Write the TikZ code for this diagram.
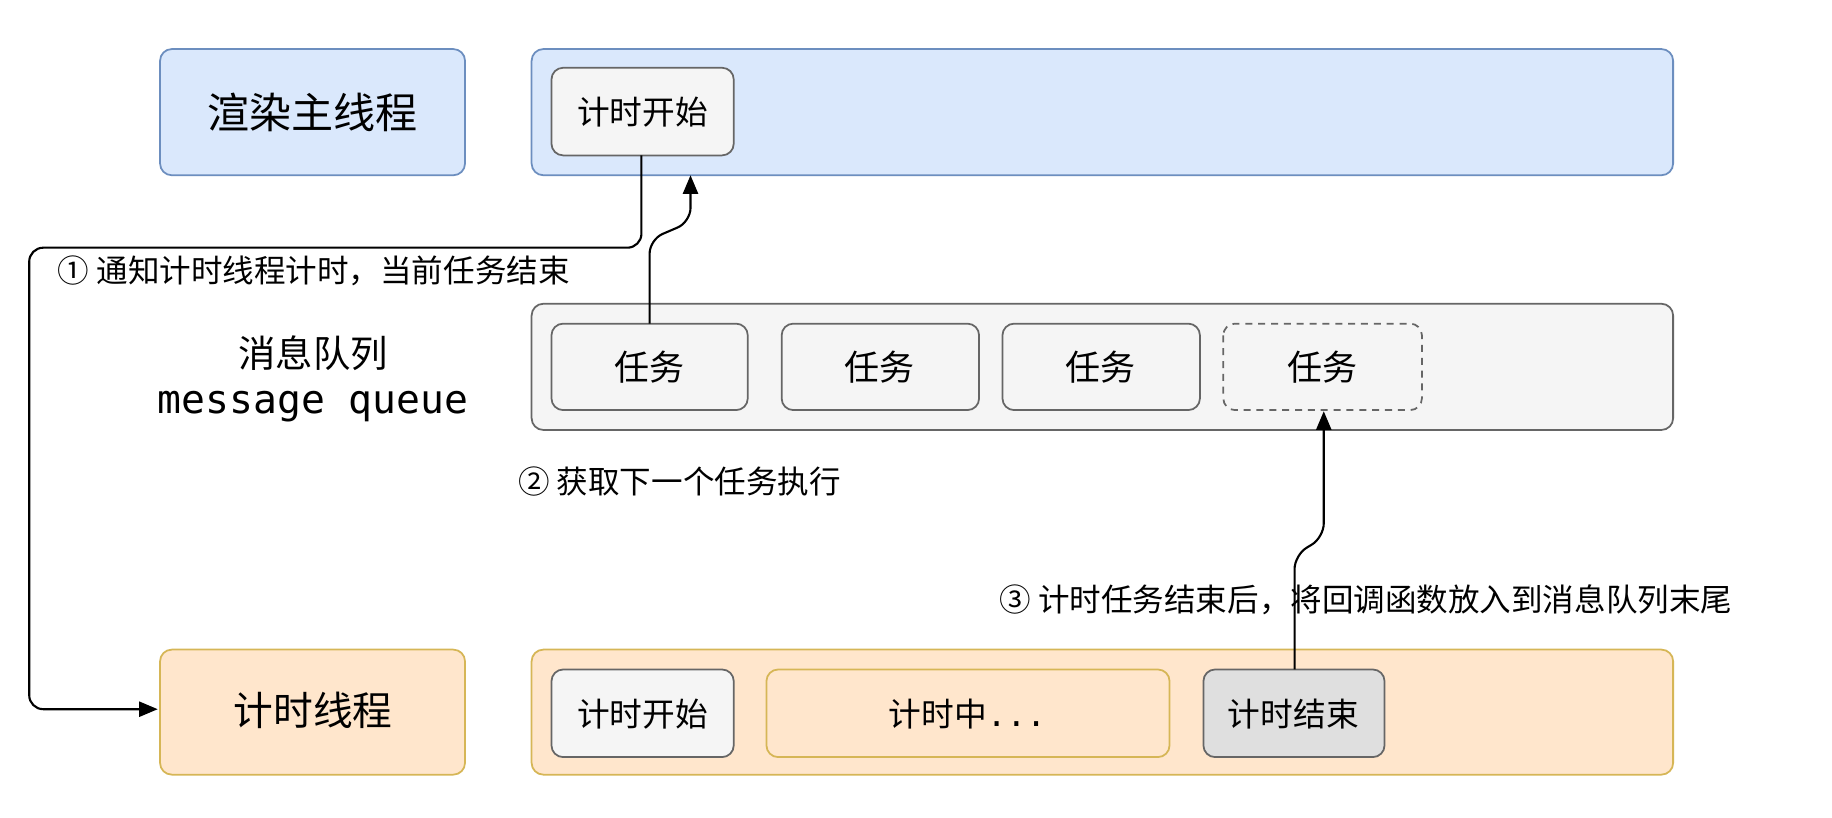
\documentclass[tikz,border=0pt]{standalone}
\usepackage{fontspec}
\setmainfont{Noto Sans CJK SC}
\newfontfamily\monof{DejaVu Sans Mono}
\usetikzlibrary{arrows.meta}
\definecolor{bfill}{HTML}{DAE8FC}\definecolor{bdraw}{HTML}{6C8EBF}
\definecolor{ofill}{HTML}{FFE6CC}\definecolor{odraw}{HTML}{D6B656}
\definecolor{gfill}{HTML}{F5F5F5}\definecolor{gdraw}{HTML}{666666}
\begin{document}
\begin{tikzpicture}[x=1pt,y=-1pt,
  box/.style={rounded corners=10pt,line width=1.5pt},
  blue/.style={box,fill=bfill,draw=bdraw},
  org/.style={box,fill=ofill,draw=odraw},
  gry/.style={box,fill=gfill,draw=gdraw},
  arr/.style={line width=1.8pt,-{Triangle[length=16pt,width=13pt]},rounded corners=12pt},
  lab/.style={font=\fontsize{27}{30}\selectfont,anchor=west}]
\useasboundingbox (0,0) rectangle (1568,700);
\fill[white] (0,0) rectangle (1568,700);
\draw[blue] (137,42) rectangle (398,150) node[midway,font=\fontsize{36}{40}\selectfont] (rt) {渲染主线程};
\draw[blue] (455,42) rectangle (1432,150);
\draw[gry] (472,58) rectangle (628,133); \node[font=\fontsize{28}{30}\selectfont] (ts1) at (550,96) {计时开始};
\draw[gry] (455,260) rectangle (1432,368);
\node[font=\fontsize{32}{34}\selectfont] (mq) at (268,302) {消息队列};
\node[font=\monof\fontsize{34}{36}\selectfont] (mq2) at (268,348) {message queue};
\draw[gry] (472,277) rectangle (640,351); \node[font=\fontsize{30}{32}\selectfont] (t1) at (556,314) {任务};
\draw[gry] (669,277) rectangle (838,351); \node[font=\fontsize{30}{32}\selectfont] (t2) at (753,314) {任务};
\draw[gry] (858,277) rectangle (1027,351); \node[font=\fontsize{30}{32}\selectfont] (t3) at (942,314) {任务};
\draw[gry,dashed,dash pattern=on 6pt off 5pt] (1047,277) rectangle (1217,351); \node[font=\fontsize{30}{32}\selectfont] (t4) at (1132,314) {任务};
\draw[org] (137,556) rectangle (398,663); \node[font=\fontsize{34}{36}\selectfont] (tt) at (268,608) {计时线程};
\draw[org] (455,556) rectangle (1432,663);
\draw[gry] (472,573) rectangle (628,648); \node[font=\fontsize{28}{30}\selectfont] (ts2) at (550,611) {计时开始};
\draw[org] (656,573) rectangle (1001,648); \node[font=\fontsize{28}{30}\selectfont] (tm) at (828,611) {计时中{\monof ...}};
\draw[box,fill=gray!25,draw=gdraw] (1030,573) rectangle (1185,648); \node[font=\fontsize{28}{30}\selectfont] (te) at (1107,611) {计时结束};
\coordinate (a1) at (549,133); \coordinate (a1e) at (135,607);
\draw[arr] (a1) -- (549,212) -- (25,212) -- (25,607) -- (a1e);
\coordinate (a2s) at (556,277); \coordinate (a2e) at (591,150);
\draw[arr] (a2s) -- (556,205) -- (591,190) -- (a2e);
\coordinate (a3s) at (1108,573); \coordinate (a3e) at (1133,352);
\draw[arr] (a3s) -- (1108,475) -- (1133,460) -- (a3e);
\node[lab] at (46,232) {① 通知计时线程计时，当前任务结束};
\node[lab] at (440,412) {② 获取下一个任务执行};
\node[lab] at (852,513) {③ 计时任务结束后，将回调函数放入到消息队列末尾};
\end{tikzpicture}
\end{document}
